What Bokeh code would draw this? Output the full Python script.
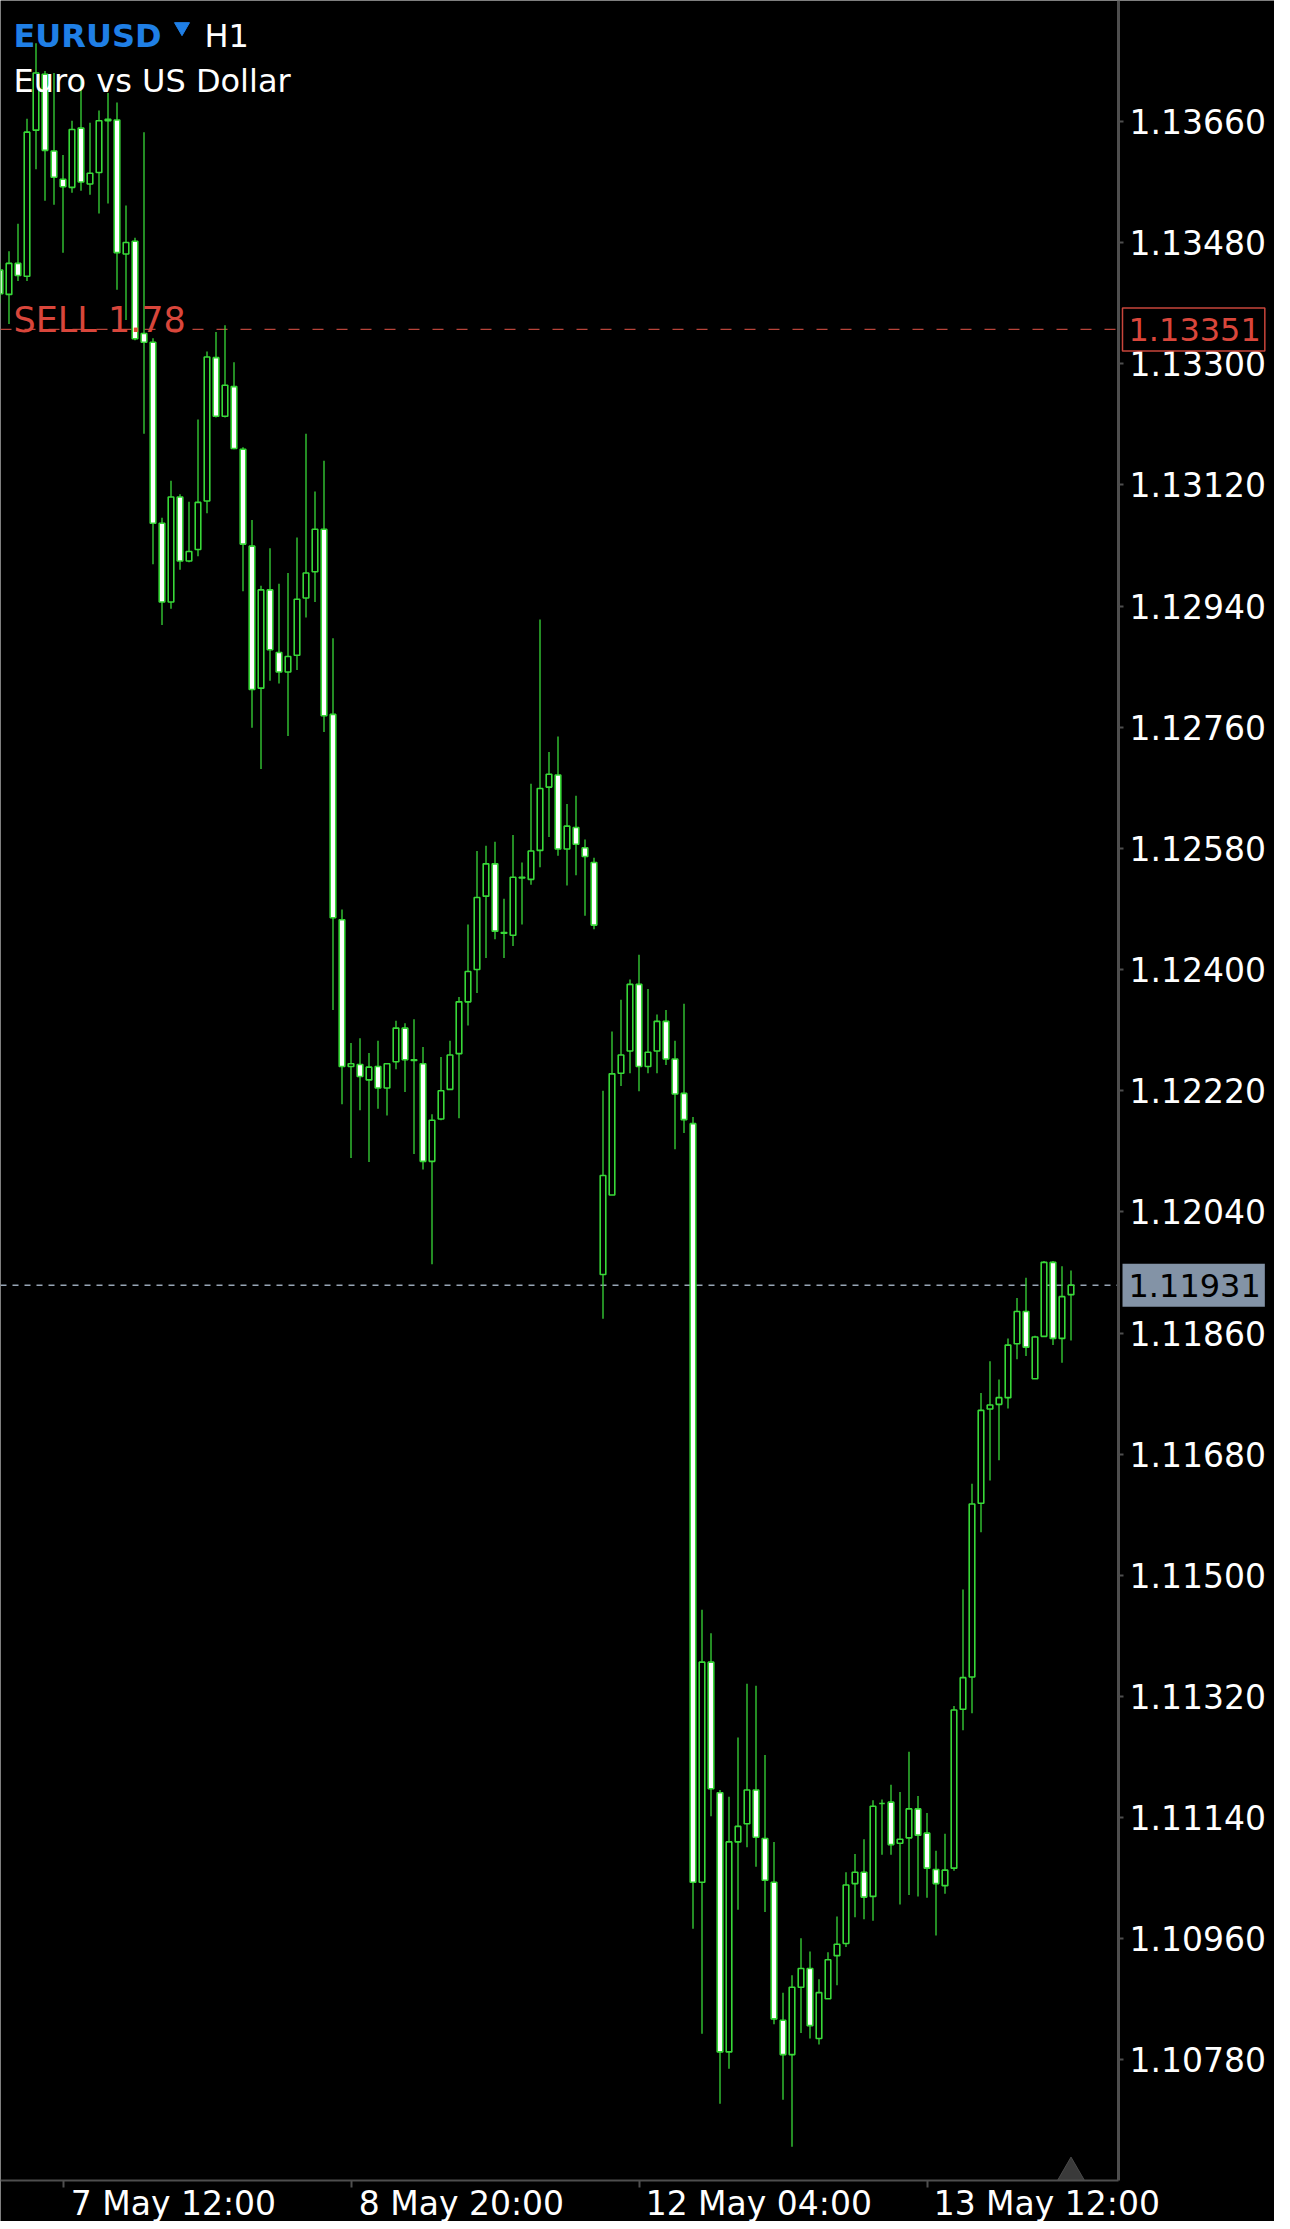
import pandas as pd
from bokeh.plotting import figure
from bokeh.models import (ColumnDataSource, FixedTicker, LinearAxis, Range1d,
                          Label, PrintfTickFormatter)
from bokeh.embed import file_html
from bokeh.resources import INLINE

# ---------------- data ----------------
symbol = "EURUSD"
timeframe = "H1"
description = "Euro vs US Dollar"
sell_label = "SELL 1.78"
sell_price = 1.13351
last_price = 1.11931

price_ticks = [1.10780, 1.10960, 1.11140, 1.11320, 1.11500, 1.11680, 1.11860,
               1.12040, 1.12220, 1.12400, 1.12580, 1.12760, 1.12940, 1.13120,
               1.13300, 1.13480, 1.13660]

tick_times = ["2025-05-07 12:00", "2025-05-08 20:00", "2025-05-12 04:00", "2025-05-13 12:00"]
tick_labels = ["7 May 12:00", "8 May 20:00", "12 May 04:00", "13 May 12:00"]

times = (list(pd.date_range("2025-05-07 05:00", "2025-05-09 23:00", freq="h")) +
         list(pd.date_range("2025-05-12 00:00", "2025-05-14 04:00", freq="h")))

opens = [1.13439, 1.13403, 1.13449, 1.13430, 1.13647, 1.13730, 1.13616, 1.13574, 1.13562, 1.13650,
         1.13567, 1.13584, 1.13661, 1.13662, 1.13463, 1.13482, 1.13345, 1.13332, 1.13063, 1.12946,
         1.13102, 1.13007, 1.13024, 1.13096, 1.13309, 1.13222, 1.13266, 1.13173, 1.13029, 1.12818,
         1.12964, 1.12871, 1.12842, 1.12867, 1.12952, 1.12991, 1.13054, 1.12779, 1.12474, 1.12256,
         1.12259, 1.12236, 1.12256, 1.12224, 1.12263, 1.12313, 1.12265, 1.12260, 1.12115, 1.12178,
         1.12222, 1.12275, 1.12352, 1.12400, 1.12509, 1.12557, 1.12454, 1.12451, 1.12536, 1.12534,
         1.12577, 1.12671, 1.12689, 1.12579, 1.12611, 1.12581, 1.12559,
         1.11947, 1.12065, 1.12246, 1.12279, 1.12378, 1.12256, 1.12279, 1.12323, 1.12267, 1.12216,
         1.12171, 1.11044, 1.11371, 1.11177, 1.10792, 1.11104, 1.11131, 1.11181, 1.11109, 1.11044,
         1.10839, 1.10788, 1.10888, 1.10916, 1.10812, 1.10871, 1.10935, 1.10953, 1.11042, 1.11059,
         1.11023, 1.11161, 1.11163, 1.11102, 1.11110, 1.11153, 1.11117, 1.11063, 1.11039, 1.11065,
         1.11301, 1.11349, 1.11607, 1.11747, 1.11754, 1.11764, 1.11844, 1.11892, 1.11792, 1.11855,
         1.11965, 1.11852, 1.11917]
highs = [1.13450, 1.13467, 1.13508, 1.13664, 1.13776, 1.13735, 1.13732, 1.13610, 1.13661, 1.13723,
         1.13658, 1.13676, 1.13702, 1.13688, 1.13535, 1.13487, 1.13644, 1.13338, 1.13071, 1.13126,
         1.13106, 1.13095, 1.13217, 1.13318, 1.13347, 1.13357, 1.13302, 1.13176, 1.13068, 1.12970,
         1.13026, 1.12973, 1.12989, 1.13042, 1.13196, 1.13110, 1.13156, 1.12892, 1.12489, 1.12291,
         1.12298, 1.12276, 1.12294, 1.12261, 1.12324, 1.12320, 1.12326, 1.12285, 1.12185, 1.12270,
         1.12294, 1.12359, 1.12467, 1.12576, 1.12584, 1.12590, 1.12505, 1.12600, 1.12559, 1.12676,
         1.12920, 1.12723, 1.12746, 1.12646, 1.12658, 1.12593, 1.12566,
         1.12220, 1.12308, 1.12355, 1.12385, 1.12422, 1.12371, 1.12333, 1.12340, 1.12294, 1.12349,
         1.12181, 1.11449, 1.11414, 1.11181, 1.11171, 1.11259, 1.11339, 1.11336, 1.11233, 1.11104,
         1.10880, 1.10906, 1.10961, 1.10941, 1.10900, 1.10940, 1.10993, 1.11059, 1.11086, 1.11108,
         1.11166, 1.11167, 1.11189, 1.11178, 1.11238, 1.11172, 1.11147, 1.11091, 1.11116, 1.11306,
         1.11479, 1.11636, 1.11771, 1.11818, 1.11791, 1.11852, 1.11912, 1.11942, 1.11856, 1.11967,
         1.11967, 1.11959, 1.11953]
lows = [1.13390, 1.13359, 1.13423, 1.13423, 1.13589, 1.13542, 1.13536, 1.13465, 1.13554, 1.13557,
        1.13551, 1.13523, 1.13538, 1.13410, 1.13365, 1.13335, 1.13196, 1.13002, 1.12912, 1.12936,
        1.12994, 1.13005, 1.13014, 1.13078, 1.13220, 1.13220, 1.13173, 1.12962, 1.12759, 1.12698,
        1.12829, 1.12825, 1.12747, 1.12845, 1.12923, 1.12946, 1.12753, 1.12340, 1.12200, 1.12120,
        1.12191, 1.12114, 1.12193, 1.12183, 1.12252, 1.12218, 1.12126, 1.12103, 1.11962, 1.12176,
        1.12222, 1.12179, 1.12317, 1.12365, 1.12417, 1.12445, 1.12417, 1.12435, 1.12467, 1.12526,
        1.12552, 1.12597, 1.12569, 1.12525, 1.12540, 1.12480, 1.12460,
        1.11881, 1.12065, 1.12227, 1.12246, 1.12219, 1.12246, 1.12246, 1.12258, 1.12133, 1.12157,
        1.10975, 1.10819, 1.11142, 1.10715, 1.10767, 1.11003, 1.11096, 1.11067, 1.11000, 1.10833,
        1.10721, 1.10651, 1.10820, 1.10812, 1.10803, 1.10871, 1.10891, 1.10948, 1.10992, 1.10989,
        1.10987, 1.11085, 1.11085, 1.11011, 1.11025, 1.11023, 1.11021, 1.10965, 1.11027, 1.11061,
        1.11270, 1.11295, 1.11564, 1.11641, 1.11671, 1.11748, 1.11821, 1.11826, 1.11792, 1.11855,
        1.11842, 1.11816, 1.11849]
closes = [1.13404, 1.13449, 1.13431, 1.13644, 1.13732, 1.13617, 1.13577, 1.13563, 1.13648, 1.13570,
          1.13583, 1.13661, 1.13663, 1.13465, 1.13480, 1.13337, 1.13332, 1.13063, 1.12946, 1.13102,
          1.13007, 1.13021, 1.13094, 1.13310, 1.13222, 1.13268, 1.13174, 1.13032, 1.12816, 1.12964,
          1.12875, 1.12842, 1.12865, 1.12950, 1.12989, 1.13054, 1.12777, 1.12477, 1.12256, 1.12260,
          1.12241, 1.12255, 1.12224, 1.12260, 1.12313, 1.12266, 1.12266, 1.12115, 1.12176, 1.12220,
          1.12273, 1.12352, 1.12397, 1.12507, 1.12557, 1.12457, 1.12455, 1.12537, 1.12537, 1.12576,
          1.12669, 1.12690, 1.12579, 1.12613, 1.12586, 1.12568, 1.12466,
          1.12094, 1.12245, 1.12273, 1.12378, 1.12256, 1.12277, 1.12323, 1.12267, 1.12215, 1.12177,
          1.11044, 1.11371, 1.11183, 1.10792, 1.11104, 1.11127, 1.11181, 1.11111, 1.11047, 1.10841,
          1.10788, 1.10888, 1.10916, 1.10831, 1.10880, 1.10929, 1.10952, 1.11040, 1.11059, 1.11022,
          1.11157, 1.11161, 1.11100, 1.11108, 1.11153, 1.11114, 1.11065, 1.11042, 1.11062, 1.11300,
          1.11348, 1.11606, 1.11745, 1.11753, 1.11764, 1.11842, 1.11892, 1.11839, 1.11854, 1.11965,
          1.11852, 1.11914, 1.11931]

# ---------------- style / layout ----------------
GREEN = "#38d838"
AXIS_GRAY = "#4e4e4e"
RED = "#d9463b"
SLATE = "#8393a6"
FONT = "DejaVu Sans"
W, H = 1274, 2221             # whole canvas is the plotting frame
BAR_PX = 9.0                  # pixels per hourly bar
PPU = 67312.0                 # pixels per price unit
AXIS_PX_X, AXIS_PX_Y = 1118, 2180   # where the price axis / time axis lines sit
X_LEFT = 0.5 / BAR_PX
X_RIGHT = X_LEFT + W / BAR_PX
AXIS_X = X_LEFT + AXIS_PX_X / BAR_PX
Y_TOP = 1.138396
Y_BOTTOM = Y_TOP - H / PPU
AXIS_Y = Y_TOP - AXIS_PX_Y / PPU

xs = list(range(len(times)))
src = ColumnDataSource(dict(
    x=xs, open=opens, high=highs, low=lows, close=closes,
    top=[max(o, c) for o, c in zip(opens, closes)],
    bottom=[min(o, c) for o, c in zip(opens, closes)],
    fill=["black" if c >= o else "white" for o, c in zip(opens, closes)],
))

p = figure(frame_width=W, frame_height=H, output_backend="svg",
           toolbar_location=None, x_range=Range1d(X_LEFT, X_RIGHT),
           y_range=Range1d(Y_BOTTOM, Y_TOP), x_axis_location=None,
           y_axis_location=None, background_fill_color="black",
           border_fill_color="black", outline_line_color=None, min_border=0)
p.xgrid.visible = False
p.ygrid.visible = False

# right price axis, pinned inside the frame
yax = LinearAxis(ticker=FixedTicker(ticks=price_ticks),
                 formatter=PrintfTickFormatter(format="%.5f"),
                 fixed_location=AXIS_X, bounds=(AXIS_Y, Y_TOP),
                 axis_line_color=AXIS_GRAY, axis_line_width=3,
                 major_tick_line_color=AXIS_GRAY, major_tick_line_width=2,
                 major_tick_out=5, major_tick_in=0, minor_tick_line_color=None,
                 major_label_text_color="white", major_label_text_font=FONT,
                 major_label_text_font_size="33px", major_label_standoff=6)
p.add_layout(yax, "right")

# bottom time axis: tick marks at bar positions, labels start just right of them
tick_pos = [float(times.index(pd.Timestamp(t))) for t in tick_times]
label_pos = [round(tp + (7 + 0.5 * len(lb) * 18.8) / BAR_PX, 3) for tp, lb in zip(tick_pos, tick_labels)]
xax = LinearAxis(ticker=FixedTicker(ticks=label_pos, minor_ticks=tick_pos),
                 major_label_overrides={lp: lb for lp, lb in zip(label_pos, tick_labels)},
                 fixed_location=AXIS_Y, bounds=(X_LEFT, AXIS_X),
                 axis_line_color=AXIS_GRAY, axis_line_width=2,
                 major_tick_line_color=None, major_tick_out=0, major_tick_in=0,
                 minor_tick_line_color=AXIS_GRAY, minor_tick_line_width=2,
                 minor_tick_out=7, minor_tick_in=0,
                 major_label_text_color="white", major_label_text_font=FONT,
                 major_label_text_font_size="33px", major_label_standoff=-4)
p.add_layout(xax, "below")

# price lines (end at the price axis)
p.segment(x0=[X_LEFT], x1=[AXIS_X], y0=[sell_price], y1=[sell_price],
          line_color="#b8443a", line_width=1.2, line_dash="11 13")
p.segment(x0=[X_LEFT], x1=[AXIS_X], y0=[last_price], y1=[last_price],
          line_color="#98a6b6", line_width=1.5, line_dash="6 6")

# candles
p.segment(x0="x", y0="high", x1="x", y1="low", line_color=GREEN, line_width=1.3, source=src)
p.vbar(x="x", width=0.62, top="top", bottom="bottom", fill_color="fill",
       line_color=GREEN, line_width=1.6, source=src)

# chart-shift marker at the last bar
p.scatter(x=[xs[-1]], y=[AXIS_Y + 7.8 / PPU], marker="triangle", size=27,
          fill_color="#3a3a3a", line_color="#4a4a4a")

# header texts
p.add_layout(Label(x=X_LEFT, y=Y_TOP, x_offset=13, y_offset=-35, text=symbol,
                   text_color="#1f7fe6", text_font=FONT, text_font_size="32px",
                   text_font_style="bold", text_baseline="alphabetic"))
p.scatter(x=[X_LEFT + 181.5 / BAR_PX], y=[Y_TOP - 26.5 / PPU], marker="inverted_triangle",
          size=15, fill_color="#1f7fe6", line_color="#1f7fe6")
p.add_layout(Label(x=X_LEFT, y=Y_TOP, x_offset=204, y_offset=-35, text=timeframe,
                   text_color="white", text_font=FONT, text_font_size="32px",
                   text_baseline="alphabetic"))
p.add_layout(Label(x=X_LEFT, y=Y_TOP, x_offset=13, y_offset=-80, text=description,
                   text_color="white", text_font=FONT, text_font_size="32px",
                   text_baseline="alphabetic"))
p.add_layout(Label(x=X_LEFT, y=sell_price, x_offset=13, y_offset=9, text=sell_label,
                   text_color=RED, text_font=FONT, text_font_size="35px",
                   text_baseline="alphabetic"))

# price boxes on the axis
box_pad = dict(left=6, right=4, top=10, bottom=10)
p.add_layout(Label(x=AXIS_X, y=sell_price, x_offset=4, text=f"{sell_price:.5f}",
                   text_color=RED, text_font=FONT, text_font_size="32px",
                   text_baseline="middle", background_fill_color="black",
                   border_line_color="#c8453b", border_line_width=1.5, padding=box_pad))
p.add_layout(Label(x=AXIS_X, y=last_price, x_offset=4, text=f"{last_price:.5f}",
                   text_color="black", text_font=FONT, text_font_size="32px",
                   text_baseline="middle", background_fill_color=SLATE,
                   border_line_color=None, padding=box_pad))

open("out.html", "w").write(file_html(p, INLINE))
